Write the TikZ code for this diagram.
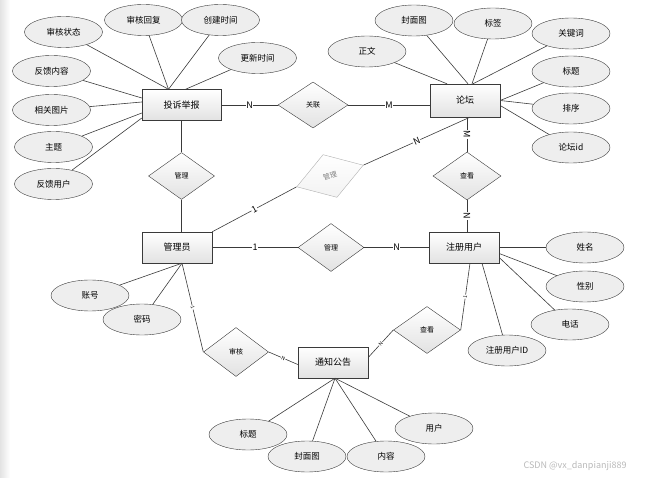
\documentclass[tikz,border=0pt]{standalone}
\usepackage{fontspec}
\usepackage{tikz}
\usetikzlibrary{positioning,shapes.geometric,shadows}
\newfontfamily\cjk{Noto Sans CJK SC}
\definecolor{erline}{HTML}{3A3A3A}
\definecolor{erfill}{HTML}{E2E2E2}
\definecolor{elfill}{HTML}{EEEEEE}
\definecolor{faint}{HTML}{B0B0B0}

\begin{document}
\begin{tikzpicture}[x=1pt,y=-1pt,on grid,
  font=\cjk\fontsize{8.5}{10}\selectfont,
  ent/.style={draw=erline,top color=white,bottom color=erfill,
              minimum width=70pt,minimum height=31pt,inner sep=2pt,
              drop shadow={shadow xshift=1pt,shadow yshift=-1pt,fill=gray!80,opacity=.6},
              font=\cjk\fontsize{9}{10}\selectfont},
  attr/.style={ellipse,draw=erline,fill=elfill,minimum width=78pt,
               minimum height=31pt,inner sep=0pt},
  rel/.style={diamond,draw=erline,top color=white,bottom color=erfill,
              minimum width=66pt,minimum height=47pt,inner sep=0pt,
              font=\cjk\fontsize{7}{8}\selectfont},
  lk/.style={draw=erline,line width=.6pt},
  card/.style={fill=white,inner sep=.6pt,font=\cjk\fontsize{9}{10}\selectfont},
  tcard/.style={card,font=\cjk\fontsize{5}{6}\selectfont}]
  \useasboundingbox (0,0) rectangle (645,478);
  \fill[left color=gray!22,right color=white] (0,0) rectangle (10,478);
  % entities
  \node[ent,minimum width=79pt] (ts) at (181.5,105) {投诉举报};
  \node[ent,minimum height=33pt] (lt) at (465,100.5) {论坛};
  \node[ent] (gly) at (177,247.5) {管理员};
  \node[ent] (zc) at (464,247.5) {注册用户};
  \node[ent] (tz) at (333,362.5) {通知公告};
  % relations
  \node[rel,minimum width=70pt,minimum height=46pt,right=131.5pt of ts] (gl) {关联};
  \node[rel,below=71pt of ts] (gl1) {管理};
  \node[rel,minimum width=68pt,minimum height=48pt,below right=75.5pt and 2pt of lt] (ck1) {查看};
  \node[rel,minimum height=48pt,right=154pt of gly] (gl2) {管理};
  \node[rel,minimum width=65pt,minimum height=49pt,below right=104.5pt and 59pt of gly] (sh) {审核};
  \node[rel,minimum width=67pt,below left=82.5pt and 37pt of zc] (ck2) {查看};
  \node[rel,draw=faint,bottom color=gray!10,text=gray,minimum width=70pt,
        minimum height=45pt,rotate=18,above right=71.5pt and 153pt of gly] (gl3) {管理};
  % attributes of ts
  \node[attr,above left=73pt and 118pt of ts] (ts1) {审核状态};
  \node[attr,above left=85pt and 38pt of ts] (ts2) {审核回复};
  \node[attr,above right=85pt and 39pt of ts] (ts3) {创建时间};
  \node[attr,above right=47pt and 76pt of ts] (ts4) {更新时间};
  \node[attr,above left=34pt and 130pt of ts] (ts5) {反馈内容};
  \node[attr,below left=5pt and 130pt of ts] (ts6) {相关图片};
  \node[attr,below left=42pt and 128pt of ts] (ts7) {主题};
  \node[attr,below left=79pt and 128pt of ts] (ts8) {反馈用户};
  % attributes of lt
  \node[attr,above left=49pt and 98pt of lt] (lt1) {正文};
  \node[attr,above left=80pt and 51pt of lt] (lt2) {封面图};
  \node[attr,above right=77pt and 28pt of lt] (lt3) {标签};
  \node[attr,above right=67pt and 106pt of lt] (lt4) {关键词};
  \node[attr,above right=29pt and 106pt of lt] (lt5) {标题};
  \node[attr,below right=8pt and 106pt of lt] (lt6) {排序};
  \node[attr,below right=47pt and 106pt of lt] (lt7) {论坛id};
  % attributes of gly, zc, tz
  \node[attr,below left=48pt and 87pt of gly] (gly1) {账号};
  \node[attr,below left=72pt and 35pt of gly] (gly2) {密码};
  \node[attr,right=121pt of zc] (zc1) {姓名};
  \node[attr,below right=39pt and 121pt of zc] (zc2) {性别};
  \node[attr,below right=77pt and 106pt of zc] (zc3) {电话};
  \node[attr,below right=103pt and 43pt of zc] (zc4) {注册用户ID};
  \node[attr,below left=72pt and 85pt of tz] (tz1) {标题};
  \node[attr,below left=94pt and 26pt of tz] (tz2) {封面图};
  \node[attr,below right=94pt and 53pt of tz] (tz3) {内容};
  \node[attr,below right=66pt and 101pt of tz] (tz4) {用户};
  \node[text=gray!55,font=\cjk\fontsize{9}{10}\selectfont] (wm) at (575,466) {CSDN @vx\_danpianji889};
  % attribute links
  \foreach \a in {ts1,ts2,ts3} \draw[lk] (\a) -- ([xshift=-13pt]ts.north);
  \draw[lk] (ts4) -- ([xshift=4pt]ts.north);
  \draw[lk] (ts5) -- ([yshift=7pt]ts.west);
  \draw[lk] (ts6) -- ([yshift=3pt]ts.west);
  \draw[lk] (ts7) -- ([yshift=-8pt]ts.west);
  \draw[lk] (ts8) -- ([yshift=-13pt]ts.west);
  \draw[lk] (lt1) -- ([xshift=-18pt]lt.north);
  \draw[lk] (lt2) -- ([xshift=3pt]lt.north);
  \draw[lk] (lt3) -- ([xshift=7pt]lt.north);
  \draw[lk] (lt4) -- ([xshift=8pt]lt.north);
  \foreach \a in {lt5,lt6} \draw[lk] (\a) -- (lt.east);
  \draw[lk] (lt7) -- ([yshift=-5pt]lt.east);
  \foreach \a in {gly1,gly2} \draw[lk] (\a) -- ([xshift=5pt]gly.south);
  \draw[lk] (zc1) -- (zc.east);
  \draw[lk] (zc2) -- ([yshift=-6pt]zc.east);
  \draw[lk] (zc3) -- ([yshift=-10pt]zc.east);
  \draw[lk] (zc4) -- ([xshift=18pt]zc.south);
  \foreach \a in {tz1,tz2,tz3,tz4} \draw[lk] (\a) -- ([xshift=2pt]tz.south);
  % relation links
  \draw[lk] (ts.east) -- node[card]{N} (gl.west);
  \draw[lk] (gl.east) -- node[card]{M} (gl.east -| lt.west);
  \draw[lk] (ts.south) -- (gl1.north);
  \draw[lk] (gl1.south) -- (gl1.south |- gly.north);
  \draw[lk] (ck1.north |- lt.south) -- node[card,sloped]{M} (ck1.north);
  \draw[lk] (ck1.south) -- node[card,sloped]{N} (ck1.south |- zc.north);
  \draw[lk] (gly.east) -- node[card]{1} (gl2.west);
  \draw[lk] (gl2.east) -- node[card]{N} (zc.west);
  \draw[lk] (gly.north east) -- node[card,sloped]{1} (gl3.west);
  \draw[lk] (gl3.east) -- node[card,sloped]{N} ([xshift=5pt]lt.south);
  \draw[lk] ([xshift=5pt]gly.south) -- node[tcard,sloped]{1} (sh.west);
  \draw[lk] (sh.east) -- node[tcard,sloped]{N} ([yshift=-2pt]tz.west);
  \draw[lk] ([yshift=5pt]tz.east) -- node[tcard,sloped]{N} (ck2.west);
  \draw[lk] (ck2.east) -- node[tcard,sloped]{1} ([xshift=6pt]zc.south);
\end{tikzpicture}
\end{document}
